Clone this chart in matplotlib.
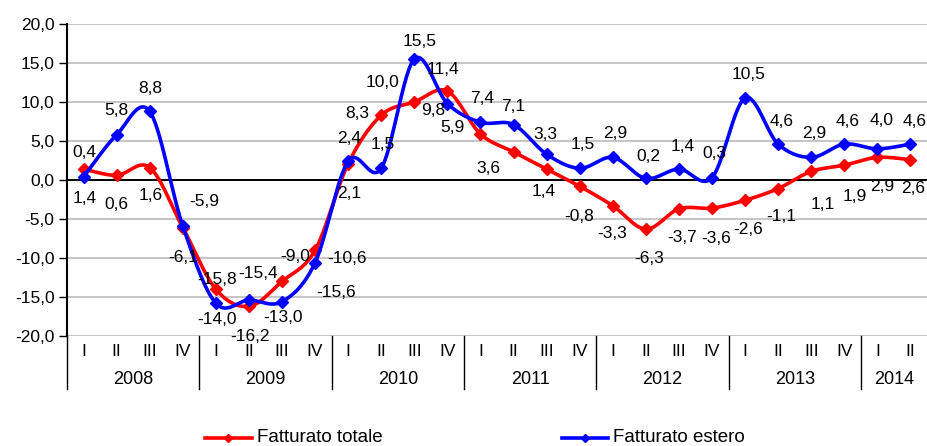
import numpy as np
import matplotlib
matplotlib.use("Agg")
import matplotlib.pyplot as plt
from matplotlib.lines import Line2D
import matplotlib.transforms as mtransforms

plt.rcParams['font.family'] = ['Liberation Sans', 'DejaVu Sans']

years = ['2008', '2009', '2010', '2011', '2012', '2013', '2014']
quarters_per_year = [4, 4, 4, 4, 4, 4, 2]
quarter_names = ['I', 'II', 'III', 'IV']
series_names = ['Fatturato totale', 'Fatturato estero']

fatturato_totale = [1.4, 0.6, 1.6, -6.1, -14.0, -16.2, -13.0, -9.0,
                    2.1, 8.3, 10.0, 11.4, 5.9, 3.6, 1.4, -0.8,
                    -3.3, -6.3, -3.7, -3.6, -2.6, -1.1, 1.1, 1.9,
                    2.9, 2.6]
fatturato_estero = [0.4, 5.8, 8.8, -5.9, -15.8, -15.4, -15.6, -10.6,
                    2.4, 1.5, 15.5, 9.8, 7.4, 7.1, 3.3, 1.5,
                    2.9, 0.2, 1.4, 0.3, 10.5, 4.6, 2.9, 4.6,
                    4.0, 4.6]

# label offsets (pixels, dx right, dy down)
off_tot = [(1, 29), (0, 29), (1, 28), (0, 30), (1, 30), (1, 30), (1, 36), (-20, 6),
           (1, 30), (-24, -2), (-32, -19), (-4, -22), (-28, -6), (-25, 17), (-3, 22), (-1, 30),
           (-1, 28), (3, 29), (3, 29), (4, 30), (3, 29), (3, 28), (12, 33), (10, 31),
           (5, 29), (3, 29)]
off_est = [(1, -24), (0, -24), (1, -23), (21, -25), (1, -24), (9, -27), (54, -9), (32, -4),
           (1, -23), (2, -24), (5, -18), (-14, 7), (2, -24), (0, -18), (-1, -20), (3, -24),
           (2, -24), (3, -22), (4, -23), (2, -24), (3, -24), (3, -23), (3, -24), (3, -23),
           (4, -28), (4, -23)]

RED = '#ff0000'
BLUE = '#0000ff'
W, H = 928, 446


def smooth(y, n=30):
    y = np.asarray(y, dtype=float)
    x = np.arange(len(y), dtype=float)
    P = np.column_stack([x, y])
    out = []
    for i in range(len(P) - 1):
        p0 = P[i - 1] if i > 0 else P[i]
        p1 = P[i]
        p2 = P[i + 1]
        p3 = P[i + 2] if i + 2 < len(P) else P[i + 1]
        c1 = p1 + (p2 - p0) / 6.0
        c2 = p2 - (p3 - p1) / 6.0
        t = np.linspace(0, 1, n, endpoint=(i == len(P) - 2))[:, None]
        seg = ((1 - t) ** 3) * p1 + 3 * ((1 - t) ** 2) * t * c1 + 3 * (1 - t) * t ** 2 * c2 + t ** 3 * p2
        out.append(seg)
    out = np.vstack(out)
    return out[:, 0], out[:, 1]


fig = plt.figure(figsize=(W / 100, H / 100), dpi=100)
ax = fig.add_axes([67 / W, 1 - 336 / H, 860 / W, 312 / H])

n = len(fatturato_totale)
xs = np.arange(n)

ax.set_xlim(-0.5, n - 0.5)
ax.set_ylim(-20, 20)
ax.set_yticks(np.arange(-20, 21, 5))
ax.set_yticklabels([f"{v:.1f}".replace('.', ',') for v in np.arange(-20, 21, 5)], fontsize=12.5)
ax.yaxis.grid(True, color='#c0c0c0', linewidth=1.3)
ax.set_axisbelow(True)
ax.axhline(0, color='black', linewidth=1.4, zorder=2)
ax.tick_params(axis='y', length=6, width=1, direction='out', pad=3)
ax.set_xticks([])
for s in ['top', 'right', 'bottom']:
    ax.spines[s].set_visible(False)
ax.spines['left'].set_linewidth(1.5)

# series
sx, sy = smooth(fatturato_totale)
ax.plot(sx, sy, color=RED, linewidth=2.6, zorder=3)
ax.plot(xs, fatturato_totale, linestyle='none', marker='D', markersize=6.5, color=RED, zorder=4)
sx, sy = smooth(fatturato_estero)
ax.plot(sx, sy, color=BLUE, linewidth=2.6, zorder=5)
ax.plot(xs, fatturato_estero, linestyle='none', marker='D', markersize=6.5, color=BLUE, zorder=6)


def fmt(v):
    return f"{v:.1f}".replace('.', ',')


for vals, offs in ((fatturato_totale, off_tot), (fatturato_estero, off_est)):
    for i, v in enumerate(vals):
        dx, dy = offs[i]
        ax.annotate(fmt(v), (i, v), xytext=(dx * 0.72, -dy * 0.72), textcoords='offset points',
                    ha='center', va='center', fontsize=12.5, color='black', zorder=7)

# two-level category axis
trans = mtransforms.blended_transform_factory(ax.transData, ax.transAxes)
q_y = -(352 - 336) / 312
y_y = -(380 - 336) / 312
sep_bottom = -(389 - 336) / 312
pos = 0
for yr, nq in zip(years, quarters_per_year):
    for q in range(nq):
        ax.text(pos + q, q_y, quarter_names[q], transform=trans, ha='center', va='center',
                fontsize=12.5)
    ax.text(pos + (nq - 1) / 2, y_y, yr, transform=trans, ha='center', va='center',
            fontsize=13)
    ax.add_line(Line2D([pos - 0.5, pos - 0.5], [0, sep_bottom], transform=trans,
                       color='black', linewidth=1, clip_on=False))
    pos += nq

# legend (drawn in figure pixel coordinates)
ly = 1 - 438 / H
for (x0, x1, tx), col, name in zip([(205, 252, 257), (562, 608, 613)], [RED, BLUE], series_names):
    fig.add_artist(Line2D([x0 / W, x1 / W], [ly, ly], transform=fig.transFigure,
                          color=col, linewidth=2.6))
    fig.add_artist(Line2D([(x0 + x1) / 2 / W], [ly], transform=fig.transFigure,
                          color=col, marker='D', markersize=4.5, linestyle='none'))
    fig.text(tx / W, ly, name, ha='left', va='center', fontsize=13.5)

fig.savefig('out.png', dpi=100)
